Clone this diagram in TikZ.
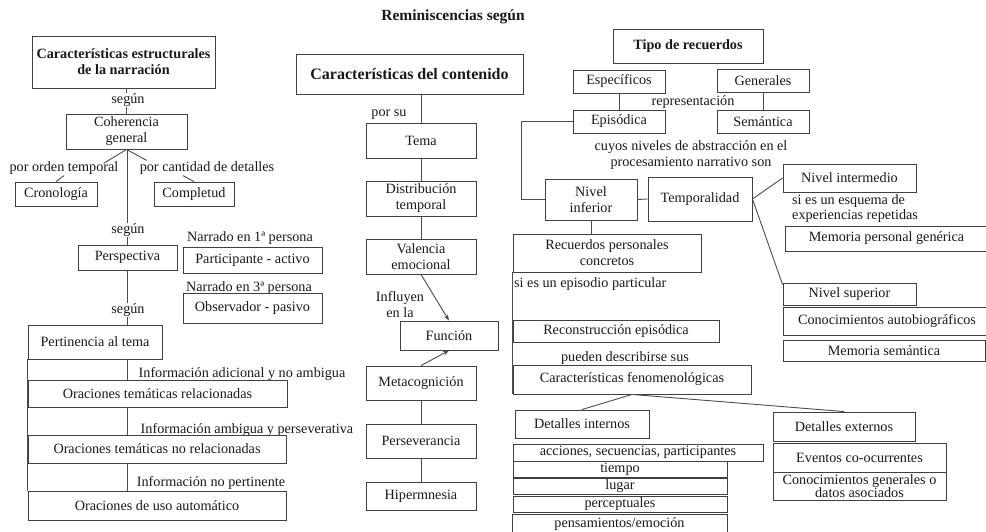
\documentclass[tikz,border=0pt]{standalone}
\usepackage{fontspec}
\setmainfont{Liberation Serif}
\usetikzlibrary{arrows.meta,calc}
\newcommand{\fs}{\fontsize{14.2}{16}\selectfont}
\newcommand{\mybox}[7][]{\node[bx,#1,minimum width={(#5)-(#3)},minimum height={(#6)-(#4)}] (#2) at ({((#3)+(#5))/2},{((#4)+(#6))/2}) {#7};}
\tikzset{
  bx/.style={draw=black!75, line width=0.9pt, inner sep=0pt, align=center, font=\fs, text=black!90},
  lbl/.style={inner sep=1pt, align=center, font=\fs, text=black!90},
  wl/.style={lbl, fill=white},
  ln/.style={draw=black!70, line width=0.9pt},
  ar/.style={ln, -{Stealth[length=6pt,width=4.5pt]}},
  bld/.style={font=\fontsize{14.2}{16}\selectfont\bfseries},
}
\begin{document}
\begin{tikzpicture}[x=1pt,y=-1pt]
\useasboundingbox (0,0) rectangle (986,531);
\clip (0,0) rectangle (986,531);
% title
\node[lbl, font=\fontsize{15.5}{17}\selectfont\bfseries] (title) at (453,17) {Reminiscencias según};
% ---------- left column
\mybox[bld]{ce}{32}{36}{215}{88}{Características estructurales\\de la narración}
\mybox{coh}{66}{114}{187}{149}{Coherencia\\general}
\node[lbl] (pot) at (64,168) {por orden temporal};
\node[lbl] (pcd) at (207,168) {por cantidad de detalles};
\mybox{cro}{15}{182}{97}{206}{Cronología}
\mybox{comp}{154}{182}{234}{206}{Completud}
\mybox{persp}{78}{245}{177}{270}{Perspectiva}
\node[lbl] (n1) at (250,238) {Narrado en 1ª persona};
\mybox{part}{183}{247}{322}{273}{Participante - activo}
\node[lbl] (n3) at (249,288) {Narrado en 3ª persona};
\mybox{obs}{183}{293}{322}{323}{Observador - pasivo}
\mybox{pert}{28}{325}{162}{359}{Pertinencia al tema}
\node[lbl] (l1) at (242,374) {Información adicional y no ambigua};
\mybox{orel}{28}{380}{287}{407}{Oraciones temáticas relacionadas}
\node[lbl] (l2) at (247,430) {Información ambigua y perseverativa};
\mybox{onrel}{28}{435}{286}{463}{Oraciones temáticas no relacionadas}
\node[lbl] (l3) at (211,483) {Información no pertinente};
\mybox{oauto}{28}{491}{286}{520}{Oraciones de uso automático}
% left connectors
\draw[ln] (coh.north |- ce.south) -- (coh.north);
\draw[ln] (coh.south) -- ($(pot.north east)+(-16,3)$);
\draw[ln] (coh.south) -- ($(pcd.north west)+(8,0)$);
\draw[ln] (pot.south) -- (cro.north);
\draw[ln] ($(pcd.south)+(-24,0)$) -- (comp.north);
\draw[ln] (persp.north |- coh.south) -- (persp.north);
\draw[ln] (persp.south) -- (persp.south |- pert.north);
\draw[ln] (pert.south -| persp.south) -- (orel.north -| persp.south);
\draw[ln] (orel.south -| persp.south) -- (onrel.north -| persp.south);
\draw[ln] (onrel.south -| persp.south) -- (oauto.north -| persp.south);
\draw[ln] (pert.south west) -- (oauto.north west);
\node[wl] (s1) at (128,100) {según};
\node[wl] (s2) at (128,230) {según};
\node[wl] (s3) at (128,310) {según};
% ---------- middle column
\mybox[font=\fontsize{16}{18}\selectfont\bfseries]{cdc}{296}{54}{523}{94}{Características del contenido}
\node[lbl] (porsu) at (389,115) {por su};
\mybox{tema}{366}{123}{476}{158}{Tema}
\mybox{dist}{366}{181}{476}{216}{Distribución\\temporal}
\mybox{val}{366}{239}{476}{274}{Valencia\\emocional}
\node[lbl] (infl) at (400,305) {Influyen\\en la};
\mybox{fun}{400}{321}{498}{350}{Función}
\mybox{meta}{366}{366}{476}{400}{Metacognición}
\mybox{pers}{366}{424}{476}{458}{Perseverancia}
\mybox{hip}{366}{482}{476}{510}{Hipermnesia}
\draw[ln] (tema.north |- cdc.south) -- (tema.north);
\draw[ln] (tema.south) -- (dist.north);
\draw[ln] (dist.south) -- (val.north);
\draw[ar] (val.south) -- (fun.north);
\draw[ar] (meta.north) -- (fun.south);
\draw[ln] (meta.south) -- (pers.north);
\draw[ln] (pers.south) -- (hip.north);
% ---------- right part
\mybox[bld]{tipo}{613}{29}{763}{63}{Tipo de recuerdos}
\mybox{esp}{573}{70}{665}{93}{Específicos}
\mybox{gen}{717}{69}{809}{92}{Generales}
\node[lbl] (repr) at (693,102) {representación};
\mybox{epi}{573}{110}{665}{133}{Episódica}
\mybox{sem}{717}{110}{809}{133}{Semántica}
\node[lbl] (cuyos) at (691,155) {cuyos niveles de abstracción en el\\procesamiento narrativo son};
\mybox{ninf}{545}{179}{637}{220}{Nivel\\inferior}
\mybox{temp}{648}{177}{752}{221}{Temporalidad}
\mybox{rec}{513}{234}{701}{272}{Recuerdos personales\\concretos}
\node[lbl, anchor=west] (sipart) at (513,284) {si es un episodio particular};
\mybox{recon}{513}{320}{719}{342}{Reconstrucción episódica}
\node[lbl] (pued) at (625,358) {pueden describirse sus};
\mybox{cfen}{513}{365}{751}{394}{Características fenomenológicas}
\mybox{dint}{515}{410}{649}{438}{Detalles internos}
\mybox{acc}{513}{444}{763}{461}{acciones, secuencias, participantes}
\mybox{tiem}{513}{461}{727}{477}{tiempo}
\mybox{lug}{513}{478}{727}{494}{lugar}
\mybox{perc}{513}{496}{727}{512}{perceptuales}
\mybox{pens}{512}{514}{727}{535}{pensamientos/emoción}
\mybox{nint}{783}{164}{916}{192}{Nivel intermedio}
\node[lbl, anchor=west, align=left, font=\fontsize{14.2}{15}\selectfont] (esq) at (791,208.5) {si es un esquema de\\experiencias repetidas};
\mybox{mpg}{785}{226}{988}{251}{Memoria personal genérica}
\mybox{nsup}{783}{283}{916}{305}{Nivel superior}
\mybox{cab}{783}{307}{991}{335}{Conocimientos autobiográficos}
\mybox{msem}{783}{340}{985}{361}{Memoria semántica}
\mybox{dext}{773}{412}{915}{441}{Detalles externos}
\mybox{evt}{773}{443}{946}{472}{Eventos co-ocurrentes}
\mybox[font=\fontsize{14.2}{13.5}\selectfont]{cgen}{773}{472}{946}{500}{Conocimientos generales o\\datos asociados}
% right connectors
\coordinate (brk) at (521,0);
\draw[ln] (esp.south) -- (epi.north);
\draw[ln] (gen.south) -- (sem.north);
\draw[ln] (epi.west) -| (brk |- ninf.west) -- (ninf.west);
\draw[ln] (ninf.east) -- (temp.west);
\draw[ln] (ninf.south) -- (ninf.south |- rec.north);
\draw[ln] (rec.south west) -- (cfen.south west);
\draw[ln] (cfen.south) -- (dint.north);
\draw[ln] (cfen.south) -- (dext.north);
\draw[ln] (temp.east) -- (nint.west);
\draw[ln] (temp.east) -- ([yshift=-2pt]nsup.north west);
\end{tikzpicture}
\end{document}
